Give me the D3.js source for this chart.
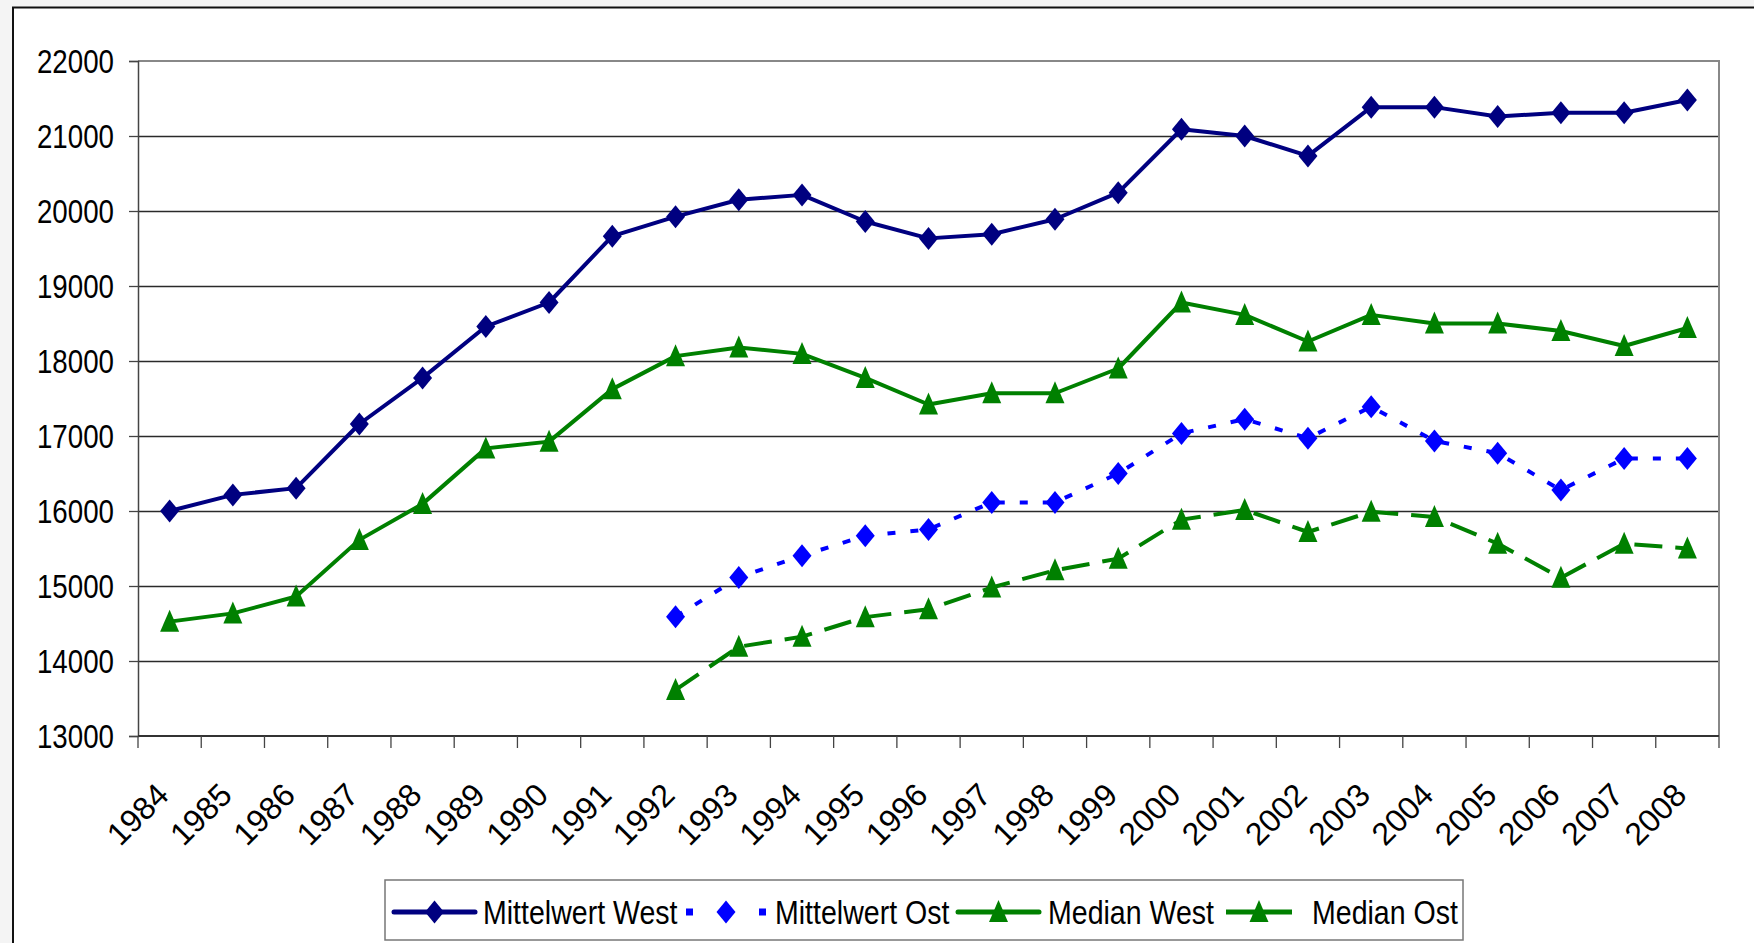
<!DOCTYPE html>
<html>
<head>
<meta charset="utf-8">
<script src="https://cdn.jsdelivr.net/npm/d3@7/dist/d3.min.js"></script>
<style>
  html, body { margin: 0; padding: 0; background: #f4f4f4; }
  svg { display: block; }
</style>
</head>
<body>
<svg id="chart" width="1754" height="943"></svg>
<script>
const years = ["1984","1985","1986","1987","1988","1989","1990","1991","1992","1993","1994","1995","1996","1997","1998","1999","2000","2001","2002","2003","2004","2005","2006","2007","2008"];
const mittelwertWest = [16000,16215,16305,17160,17775,18460,18780,19665,19925,20150,20215,19860,19635,19690,19890,20245,21090,21000,20735,21385,21385,21260,21310,21310,21480];
const mittelwertOst = [null,null,null,null,null,null,null,null,14590,15115,15405,15670,15755,16115,16115,16500,17035,17225,16970,17390,16935,16770,16280,16700,16700];
const medianWest = [14525,14635,14860,15615,16095,16835,16925,17625,18065,18180,18095,17775,17420,17570,17570,17900,18780,18615,18260,18615,18500,18500,18400,18200,18440];
const medianOst = [null,null,null,null,null,null,null,null,13615,14190,14325,14585,14690,14980,15210,15365,15885,16015,15720,15990,15920,15565,15110,15565,15500];
const yTicks = [13000,14000,15000,16000,17000,18000,19000,20000,21000,22000];
const seriesNames = ["Mittelwert West","Mittelwert Ost","Median West","Median Ost"];

const series = [
  {name: seriesNames[0], values: mittelwertWest, color: "#000080", style: "solid", marker: "diamond"},
  {name: seriesNames[1], values: mittelwertOst, color: "#0000ff", style: "dot", marker: "diamond"},
  {name: seriesNames[2], values: medianWest, color: "#008000", style: "solid", marker: "triangle"},
  {name: seriesNames[3], values: medianOst, color: "#008000", style: "dash", marker: "triangle"}
];
const dashes = {solid: null, dot: "8,15", dash: "28,13"};

const svg = d3.select("#chart");
const W = 1754, H = 943;
const plot = {left: 138, right: 1719, top: 61, bottom: 736};
const NARROW = 0.84;
const FONT = "'Liberation Sans', Arial, sans-serif";

// outer background & chart frame
svg.append("rect").attr("x",0).attr("y",0).attr("width",W).attr("height",H).attr("fill","#f4f4f4");
svg.append("rect").attr("x",13).attr("y",7.5).attr("width",1800).attr("height",1000)
  .attr("fill","#ffffff").attr("stroke","#111").attr("stroke-width",2);

const x = d3.scaleBand().domain(years).range([plot.left, plot.right]).padding(0);
const y = d3.scaleLinear().domain([13000,22000]).range([plot.bottom, plot.top]);

// gridlines
svg.append("g").selectAll("line").data(yTicks.slice(1,-1)).join("line")
  .attr("x1", plot.left).attr("x2", plot.right)
  .attr("y1", d => Math.round(y(d))+0.5).attr("y2", d => Math.round(y(d))+0.5)
  .attr("stroke","#2a2a2a").attr("stroke-width",1.3);

// plot border top/right (gray)
svg.append("path")
  .attr("d", `M${plot.left},${plot.top}H${plot.right}V${plot.bottom}`)
  .attr("fill","none").attr("stroke","#888").attr("stroke-width",2);

// y axis
const yAxis = svg.append("g").attr("transform",`translate(${plot.left},0)`)
  .call(d3.axisLeft(y).tickValues(yTicks).tickSize(9).tickPadding(14).tickFormat(d3.format("d")));
yAxis.select(".domain").attr("stroke","#444").attr("stroke-width",1.5);
yAxis.selectAll(".tick line").attr("stroke","#444").attr("stroke-width",1.3);
yAxis.selectAll(".tick text")
  .attr("x", 0)
  .attr("transform", `translate(-24,0) scale(${NARROW},1)`)
  .attr("font-family", FONT)
  .attr("font-size", 33).attr("fill","#000").attr("dy","0.36em");

// x axis line
svg.append("line").attr("x1",plot.left).attr("x2",plot.right)
  .attr("y1",plot.bottom).attr("y2",plot.bottom).attr("stroke","#333").attr("stroke-width",2);
// x ticks at category boundaries
const bounds = years.map(d => x(d)).concat([x(years[years.length-1]) + x.bandwidth()]);
svg.append("g").selectAll("line").data(bounds).join("line")
  .attr("x1", d => d).attr("x2", d => d)
  .attr("y1", plot.bottom).attr("y2", plot.bottom + 12)
  .attr("stroke","#444").attr("stroke-width",1.3);
// x labels
svg.append("g").selectAll("text").data(years).join("text")
  .attr("transform", d => `translate(${x(d)+x.bandwidth()/2+1},${plot.bottom+61}) rotate(-45)`)
  .attr("text-anchor","end")
  .attr("font-family", FONT)
  .attr("font-size", 32).attr("fill","#000")
  .text(d => d);

// markers
function markerPath(type) {
  if (type === "diamond") return "M0,-11.5L9.5,0L0,11.5L-9.5,0Z";
  return "M0,-12L9.5,10L-9.5,10Z";
}

const cx = (d,i) => x(years[i]) + x.bandwidth()/2;
series.forEach(s => {
  const line = d3.line()
    .defined(d => d !== null)
    .x((d,i) => cx(d,i))
    .y(d => y(d));
  svg.append("path").datum(s.values)
    .attr("d", line)
    .attr("fill","none").attr("stroke", s.color).attr("stroke-width",4)
    .attr("stroke-linejoin","round")
    .attr("stroke-dasharray", dashes[s.style]);
  svg.append("g").selectAll("path")
    .data(s.values.map((v,i) => ({v,i})).filter(d => d.v !== null))
    .join("path")
    .attr("transform", d => `translate(${cx(d.v,d.i)},${y(d.v)})`)
    .attr("d", markerPath(s.marker))
    .attr("fill", s.color);
});

// legend
const legend = svg.append("g");
legend.append("rect").attr("x",385).attr("y",880).attr("width",1078).attr("height",60)
  .attr("fill","#fff").attr("stroke","#777").attr("stroke-width",1.5);
const legendItems = [
  {x0: 394, x1: 475, tx: 483},
  {x0: 686, x1: 766, tx: 775},
  {x0: 958, x1: 1039, tx: 1048},
  {x0: 1226, x1: 1292, tx: 1312}
];
const ly = 912;
series.forEach((s,k) => {
  const it = legendItems[k];
  const g = legend.append("g");
  const mid = (it.x0 + it.x1) / 2;
  if (s.style === "dot") {
    g.selectAll("rect").data([it.x0, it.x1 - 7]).join("rect")
      .attr("x", d => d).attr("y", ly-3.5).attr("width", 7).attr("height", 7).attr("fill", s.color);
  } else if (s.style === "dash") {
    g.append("line").attr("x1", it.x0).attr("x2", mid).attr("y1", ly).attr("y2", ly)
      .attr("stroke", s.color).attr("stroke-width",5);
    g.append("line").attr("x1", mid).attr("x2", it.x1).attr("y1", ly).attr("y2", ly)
      .attr("stroke", s.color).attr("stroke-width",5);
  } else {
    g.append("line").attr("x1", it.x0).attr("x2", it.x1).attr("y1", ly).attr("y2", ly)
      .attr("stroke", s.color).attr("stroke-width",5).attr("stroke-linecap","round");
  }
  g.append("path").attr("transform", `translate(${mid},${ly})`)
    .attr("d", markerPath(s.marker)).attr("fill", s.color);
  g.append("text").attr("transform", `translate(${it.tx},${ly}) scale(${NARROW},1)`)
    .attr("dy","0.36em")
    .attr("font-family", FONT)
    .attr("font-size", 34).attr("fill","#000").text(s.name);
});
</script>
</body>
</html>
